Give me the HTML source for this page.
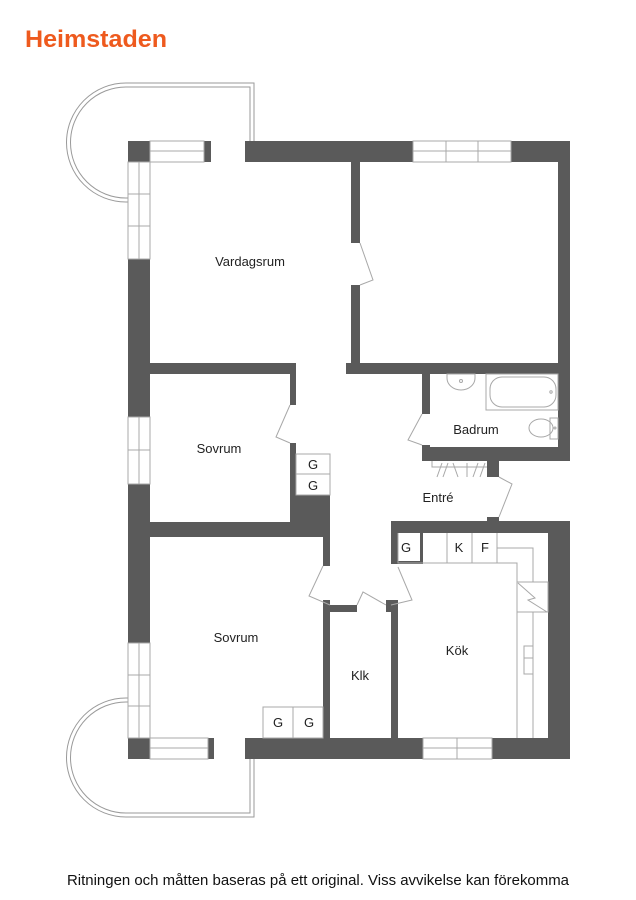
<!DOCTYPE html>
<html><head><meta charset="utf-8"><style>
html,body{margin:0;padding:0;background:#fff;}
svg{display:block;font-family:"Liberation Sans",sans-serif;}
</style></head><body>
<svg width="636" height="900" viewBox="0 0 636 900" xmlns="http://www.w3.org/2000/svg">
<text x="25" y="47" font-size="24" font-weight="bold" fill="#ee5a1e" textLength="142" lengthAdjust="spacingAndGlyphs">Heimstaden</text>

<g fill="none" stroke="#9a9a9a" stroke-width="1">
<path d="M128,202 H126 A59.5,59.5 0 0 1 126,83 H254 V141"/>
<path d="M128,198 H126 A55.5,55.5 0 0 1 126,87 H250 V141"/>
<path d="M128,698 H126 A59.5,59.5 0 0 0 126,817 H254 V759"/>
<path d="M128,702 H126 A55.5,55.5 0 0 0 126,813 H250 V759"/>
</g>

<g fill="#5a5a5a">
<rect x="128" y="141" width="22" height="21"/>
<rect x="204" y="141" width="7" height="21"/>
<rect x="245" y="141" width="168" height="21"/>
<rect x="511" y="141" width="59" height="21"/>
<rect x="128" y="259" width="22" height="158"/>
<rect x="128" y="484" width="22" height="159"/>
<rect x="558" y="141" width="12" height="320"/>
<rect x="548" y="521" width="22" height="238"/>
<rect x="128" y="738" width="22" height="21"/>
<rect x="208" y="738" width="6" height="21"/>
<rect x="245" y="738" width="178" height="21"/>
<rect x="492" y="738" width="78" height="21"/>
<rect x="351" y="162" width="9" height="81"/>
<rect x="351" y="285" width="9" height="78"/>
<rect x="150" y="363" width="146" height="11"/>
<rect x="346" y="363" width="224" height="11"/>
<rect x="290" y="374" width="6" height="31"/>
<rect x="290" y="443" width="6" height="79"/>
<rect x="296" y="495" width="34" height="27"/>
<rect x="150" y="522" width="180" height="15"/>
<rect x="323" y="537" width="7" height="29"/>
<rect x="422" y="374" width="8" height="40"/>
<rect x="422" y="445" width="8" height="6"/>
<rect x="422" y="447" width="148" height="14"/>
<rect x="487" y="461" width="12" height="16"/>
<rect x="487" y="517" width="12" height="5"/>
<rect x="391" y="521" width="179" height="12"/>
<rect x="391" y="533" width="7" height="30"/>
<rect x="420" y="533" width="3" height="30"/>
<rect x="391" y="561" width="32" height="3"/>
<rect x="391" y="600" width="7" height="138"/>
<rect x="386" y="600" width="5" height="12"/>
<rect x="323" y="600" width="7" height="138"/>
<rect x="330" y="605" width="27" height="7"/>
</g>

<g fill="none" stroke="#a8a8a8" stroke-width="1">
<rect x="150" y="141" width="54" height="21"/><line x1="150" y1="151" x2="204" y2="151"/>
<rect x="413" y="141" width="98" height="21"/><line x1="413" y1="151" x2="511" y2="151"/><line x1="446" y1="141" x2="446" y2="162"/><line x1="478" y1="141" x2="478" y2="162"/>
<rect x="128" y="162" width="22" height="97"/><line x1="139" y1="162" x2="139" y2="259"/><line x1="128" y1="194" x2="150" y2="194"/><line x1="128" y1="226" x2="150" y2="226"/>
<rect x="128" y="417" width="22" height="67"/><line x1="139" y1="417" x2="139" y2="484"/><line x1="128" y1="450" x2="150" y2="450"/>
<rect x="128" y="643" width="22" height="95"/><line x1="139" y1="643" x2="139" y2="738"/><line x1="128" y1="675" x2="150" y2="675"/><line x1="128" y1="706" x2="150" y2="706"/>
<rect x="150" y="738" width="58" height="21"/><line x1="150" y1="748" x2="208" y2="748"/>
<rect x="423" y="738" width="69" height="21"/><line x1="423" y1="748" x2="492" y2="748"/><line x1="457" y1="738" x2="457" y2="759"/>
<polyline points="360,243 373,280 360,285"/>
<polyline points="290,405 276,437 290,443"/>
<polyline points="422,414 408,440 422,445"/>
<polyline points="499,477 512,484 499,517"/>
<polyline points="323,566 309,596 330,605"/>
<polyline points="357,605 363,592 386,605"/>
<polyline points="398,567 412,600 391,605"/>
<rect x="296" y="454" width="34" height="20"/><rect x="296" y="474" width="34" height="21"/>
<rect x="263" y="707" width="30" height="31"/><rect x="293" y="707" width="30" height="31"/>
<polyline points="398,533 398,563 517,563 517,738"/>
<line x1="447" y1="533" x2="447" y2="563"/><line x1="472" y1="533" x2="472" y2="563"/><line x1="497" y1="533" x2="497" y2="563"/>
<polyline points="497,548 533,548 533,582"/>
<line x1="533" y1="612" x2="533" y2="738"/>
<rect x="517" y="582" width="31" height="30"/>
<polyline points="518,583 535,598 528,600 547,612"/>
<rect x="524" y="646" width="9" height="12"/><rect x="524" y="658" width="9" height="16"/>
<polyline points="432,461 432,467 487,467"/>
<path d="M437,477 L442,463 M443,477 L448,463 M458,477 L453,463 M467,477 L467,463 M473,477 L478,463 M480,477 L485,463"/>
<rect x="486" y="374" width="72" height="36"/>
<rect x="490" y="377" width="66" height="30" rx="12"/>
<circle cx="551" cy="392" r="1.2"/>
<path d="M447,374 V378 A14,12 0 0 0 475,378 V374 Z"/>
<circle cx="461" cy="381" r="1.5"/>
<ellipse cx="541" cy="428" rx="12" ry="9"/>
<rect x="550" y="418" width="8" height="21"/>
<circle cx="555" cy="428" r="1"/>
</g>

<g font-size="13" fill="#222" text-anchor="middle">
<text x="250" y="266">Vardagsrum</text>
<text x="219" y="453">Sovrum</text>
<text x="476" y="434">Badrum</text>
<text x="438" y="502">Entré</text>
<text x="236" y="642">Sovrum</text>
<text x="457" y="655">Kök</text>
<text x="360" y="680">Klk</text>
<text x="313" y="469">G</text>
<text x="313" y="490">G</text>
<text x="406" y="552">G</text>
<text x="459" y="552">K</text>
<text x="485" y="552">F</text>
<text x="278" y="727">G</text>
<text x="309" y="727">G</text>
</g>
<text x="67" y="885" font-size="14.5" fill="#111" textLength="502" lengthAdjust="spacingAndGlyphs">Ritningen och måtten baseras på ett original. Viss avvikelse kan förekomma</text>
</svg>
</body></html>
